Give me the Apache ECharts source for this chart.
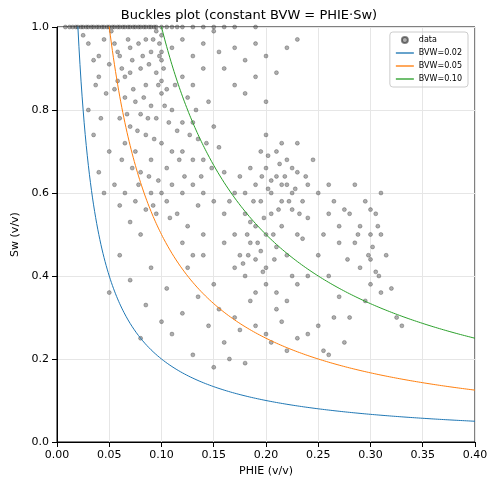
<!DOCTYPE html>
<html><head><meta charset="utf-8">
<script src="https://cdn.jsdelivr.net/npm/echarts@6/dist/echarts.min.js"></script>
<style>html,body{margin:0;padding:0;background:#fff}#c{width:498px;height:492px}</style>
</head><body><div id="c"></div>
<script>
const topRow = [0.008,0.012,0.015,0.018,0.02,0.023,0.025,0.028,0.03,0.033,0.035,0.038,0.04,0.043,0.045,0.048,0.05,0.053,0.055,0.058,0.06,0.063,0.065,0.068,0.07,0.073,0.075,0.078,0.08,0.083,0.085,0.088,0.09,0.093,0.095,0.1,0.105,0.11,0.115,0.12,0.13,0.14,0.15,0.16,0.17,0.19];
const cloudPoints = [[0.03,0.96],[0.035,0.92],[0.04,0.88],[0.045,0.97],[0.05,0.91],[0.055,0.85],[0.06,0.93],[0.065,0.88],[0.07,0.95],[0.075,0.82],[0.08,0.9],[0.085,0.86],[0.09,0.94],[0.095,0.89],[0.1,0.92],[0.105,0.85],[0.06,0.78],[0.065,0.72],[0.07,0.76],[0.075,0.7],[0.08,0.65],[0.085,0.74],[0.09,0.68],[0.095,0.78],[0.1,0.72],[0.105,0.66],[0.11,0.8],[0.115,0.75],[0.12,0.7],[0.125,0.83],[0.13,0.77],[0.135,0.73],[0.14,0.68],[0.145,0.82],[0.15,0.76],[0.155,0.71],[0.16,0.65],[0.03,0.8],[0.035,0.74],[0.04,0.65],[0.045,0.6],[0.05,0.7],[0.055,0.62],[0.06,0.57],[0.065,0.6],[0.07,0.53],[0.075,0.58],[0.08,0.5],[0.085,0.56],[0.09,0.6],[0.095,0.55],[0.1,0.6],[0.105,0.58],[0.11,0.62],[0.115,0.55],[0.12,0.6],[0.125,0.52],[0.13,0.62],[0.135,0.57],[0.14,0.6],[0.15,0.58],[0.16,0.55],[0.17,0.6],[0.1,0.98],[0.11,0.95],[0.12,0.97],[0.13,0.93],[0.14,0.96],[0.15,0.99],[0.155,0.94],[0.16,0.9],[0.17,0.95],[0.18,0.92],[0.19,0.96],[0.2,0.93],[0.21,0.89],[0.22,0.95],[0.23,0.97],[0.17,0.86],[0.18,0.84],[0.19,0.88],[0.2,0.82],[0.12,0.88],[0.13,0.86],[0.14,0.9],[0.095,0.99],[0.098,0.96],[0.1,0.94],[0.102,0.9],[0.1,0.87],[0.1,0.84],[0.025,0.98],[0.04,0.93],[0.055,0.96],[0.07,0.89],[0.085,0.97],[0.065,0.83],[0.08,0.79],[0.09,0.81],[0.11,0.7],[0.12,0.77],[0.13,0.68],[0.052,0.99],[0.058,0.94],[0.062,0.9],[0.068,0.97],[0.072,0.92],[0.078,0.96],[0.082,0.93],[0.088,0.91],[0.092,0.97],[0.098,0.93],[0.058,0.87],[0.067,0.79],[0.073,0.85],[0.077,0.75],[0.083,0.83],[0.087,0.78],[0.093,0.73],[0.097,0.86],[0.103,0.81],[0.107,0.77],[0.113,0.86],[0.117,0.68],[0.122,0.64],[0.127,0.74],[0.133,0.8],[0.138,0.64],[0.143,0.72],[0.148,0.66],[0.072,0.66],[0.078,0.62],[0.088,0.64],[0.092,0.57],[0.097,0.63],[0.108,0.54],[0.062,0.68],[0.047,0.84],[0.042,0.78],[0.037,0.86]];
const midPoints = [[0.17,0.5],[0.175,0.45],[0.18,0.55],[0.18,0.4],[0.185,0.48],[0.19,0.62],[0.19,0.52],[0.19,0.44],[0.195,0.58],[0.2,0.66],[0.2,0.5],[0.2,0.42],[0.205,0.6],[0.205,0.55],[0.21,0.7],[0.21,0.64],[0.21,0.47],[0.215,0.58],[0.215,0.52],[0.22,0.62],[0.22,0.68],[0.22,0.45],[0.225,0.56],[0.225,0.6],[0.23,0.65],[0.23,0.5],[0.23,0.72],[0.235,0.58],[0.24,0.62],[0.24,0.54],[0.245,0.68],[0.25,0.6],[0.25,0.45],[0.26,0.55],[0.255,0.5],[0.26,0.62],[0.265,0.58],[0.27,0.48],[0.27,0.52],[0.275,0.56],[0.185,0.66],[0.195,0.7],[0.2,0.74],[0.215,0.72],[0.225,0.4],[0.23,0.38],[0.24,0.4],[0.175,0.64],[0.18,0.6],[0.19,0.36],[0.2,0.38],[0.165,0.58],[0.16,0.48],[0.17,0.42],[0.21,0.36],[0.22,0.34],[0.195,0.46],[0.205,0.63],[0.185,0.53],[0.215,0.62],[0.225,0.66],[0.235,0.49],[0.182,0.5],[0.188,0.58],[0.192,0.48],[0.198,0.54],[0.202,0.61],[0.207,0.5],[0.212,0.56],[0.218,0.64],[0.222,0.58],[0.228,0.61],[0.232,0.55],[0.238,0.64],[0.178,0.43],[0.183,0.45],[0.197,0.41],[0.208,0.44],[0.213,0.67],[0.202,0.69],[0.196,0.64]];
const rightPoints = [[0.28,0.55],[0.285,0.48],[0.29,0.52],[0.29,0.42],[0.295,0.58],[0.3,0.5],[0.3,0.44],[0.3,0.38],[0.305,0.55],[0.305,0.41],[0.31,0.5],[0.31,0.36],[0.31,0.6],[0.315,0.45],[0.32,0.37],[0.325,0.3],[0.33,0.28],[0.295,0.34],[0.28,0.3],[0.27,0.35],[0.285,0.62],[0.3,0.56],[0.26,0.4],[0.265,0.3],[0.25,0.28],[0.255,0.22],[0.26,0.21],[0.24,0.26],[0.275,0.24],[0.302,0.47],[0.307,0.52],[0.308,0.4],[0.298,0.45],[0.288,0.5],[0.278,0.44]];
const lowPoints = [[0.05,0.36],[0.06,0.45],[0.07,0.39],[0.08,0.25],[0.085,0.33],[0.09,0.42],[0.1,0.29],[0.105,0.37],[0.11,0.26],[0.12,0.31],[0.125,0.42],[0.13,0.21],[0.135,0.35],[0.14,0.45],[0.145,0.28],[0.15,0.38],[0.155,0.32],[0.16,0.24],[0.165,0.2],[0.17,0.3],[0.175,0.27],[0.18,0.19],[0.185,0.34],[0.19,0.28],[0.2,0.26],[0.205,0.24],[0.21,0.32],[0.215,0.29],[0.23,0.25],[0.22,0.22],[0.15,0.18],[0.14,0.5],[0.12,0.48],[0.13,0.45]];
const bvwValues = [0.02, 0.05, 0.10];
const bvwNames = ['BVW=0.02','BVW=0.05','BVW=0.10'];
const lineColors = ['#1f77b4','#ff7f0e','#2ca02c'];

const scatterData = topRow.map(x=>[x,1.0]).concat(cloudPoints, midPoints, rightPoints, lowPoints);
function curve(b){const pts=[];for(let i=1;i<=400;i++){const x=0.001*i;pts.push([x,b/x]);}return pts;}

const series=[{name:'data',type:'scatter',data:scatterData,symbolSize:4,
  itemStyle:{color:'rgba(70,70,70,0.55)',borderColor:'rgba(0,0,0,0.6)',borderWidth:0.5},clip:true}];
bvwValues.forEach((b,i)=>series.push({name:bvwNames[i],type:'line',data:curve(b),symbol:'none',clip:true,
  lineStyle:{color:lineColors[i],width:1},itemStyle:{color:lineColors[i]}}));

const lineIcon='path://M0 0H20V1.5H0Z';
const chart=echarts.init(document.getElementById('c'));
chart.setOption({
  animation:false,
  textStyle:{fontFamily:'DejaVu Sans'},
  title:{text:'Buckles plot (constant BVW = PHIE·Sw)',left:'center',top:4,textStyle:{fontSize:13,fontWeight:'normal',color:'#000',fontFamily:'DejaVu Sans'}},
  grid:{left:57,right:23,top:27,bottom:50,show:true,borderColor:'#000',borderWidth:1},
  legend:{right:30,top:32,orient:'vertical',itemWidth:18,itemHeight:6,itemGap:5,
    textStyle:{fontSize:8,color:'#000'},borderColor:'#ccc',borderWidth:1,borderRadius:3,padding:[4,6],
    data:[{name:'data',icon:'circle'},{name:'BVW=0.02',icon:lineIcon},{name:'BVW=0.05',icon:lineIcon},{name:'BVW=0.10',icon:lineIcon}]},
  xAxis:{type:'value',min:0,max:0.4,interval:0.05,name:'PHIE (v/v)',nameLocation:'middle',nameGap:24,
    nameTextStyle:{fontSize:11,color:'#000'},
    axisLine:{lineStyle:{color:'#000'}},axisTick:{lineStyle:{color:'#000'}},
    axisLabel:{color:'#000',fontSize:11,formatter:v=>v.toFixed(2)},
    splitLine:{lineStyle:{color:'#e6e6e6'}}},
  yAxis:{type:'value',min:0,max:1,interval:0.2,name:'Sw (v/v)',nameLocation:'middle',nameGap:34,
    nameTextStyle:{fontSize:11,color:'#000'},
    axisLine:{show:true,lineStyle:{color:'#000'}},axisTick:{show:true,lineStyle:{color:'#000'}},
    axisLabel:{color:'#000',fontSize:11,formatter:v=>v.toFixed(1)},
    splitLine:{lineStyle:{color:'#e6e6e6'}}},
  series
});
</script></body></html>
